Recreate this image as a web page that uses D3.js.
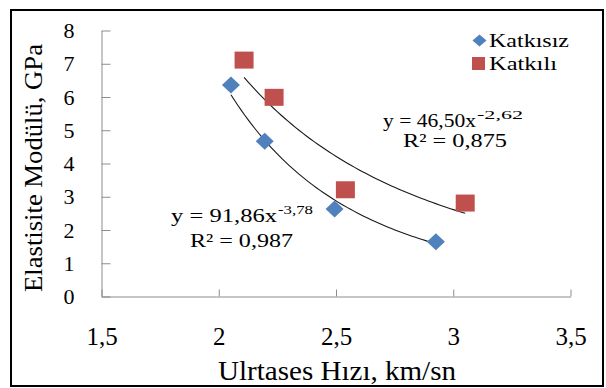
<!DOCTYPE html>
<html>
<head>
<meta charset="utf-8">
<script src="https://cdn.jsdelivr.net/npm/d3@7/dist/d3.min.js"></script>
<style>
  html, body { margin: 0; padding: 0; background: #fff; }
  svg { display: block; }
  text { font-family: "Liberation Serif", "Times New Roman", Tinos, "DejaVu Serif", serif; fill: #000; }
</style>
</head>
<body>
<svg id="chart" width="606" height="388"></svg>
<script>
// Ultrasonic velocity (km/s) vs. elastic modulus (GPa)
const seriesNames = ["Katkısız", "Katkılı"];
const velocityPlain = [2.052, 2.196, 2.494, 2.926];
const modulusPlain  = [6.36, 4.67, 2.63, 1.65];
const velocityAdd   = [2.108, 2.236, 2.540, 3.051];
const modulusAdd    = [7.11, 5.99, 3.21, 2.81];

// Power-law trendlines y = a * x^b
const fitCoefA = [91.86, 46.50];
const fitCoefB = [-3.78, -2.62];
const fitR2    = [0.987, 0.875];

const xTicks = [1.5, 2, 2.5, 3, 3.5];
const yTicks = [0, 1, 2, 3, 4, 5, 6, 7, 8];

const colors = ["#4f81bd", "#c0504d"];
const serif = '"Liberation Serif", "Times New Roman", Tinos, "DejaVu Serif", serif';
const comma = v => String(v).replace(".", ",");

const svg = d3.select("#chart");

// outer frame
svg.append("rect")
  .attr("x", 11).attr("y", 10).attr("width", 592).attr("height", 376)
  .attr("fill", "none").attr("stroke", "#000").attr("stroke-width", 2);

const x = d3.scaleLinear().domain([1.5, 3.5]).range([101.5, 570.5]);
const y = d3.scaleLinear().domain([0, 8]).range([296.5, 30.5]);

// x axis: ticks point up into the plot
const xAxis = svg.append("g")
  .attr("transform", "translate(0,296.5)")
  .call(d3.axisBottom(x).tickValues(xTicks).tickSizeInner(-7).tickSizeOuter(0)
    .tickPadding(31).tickFormat(comma));
xAxis.attr("font-family", serif);
xAxis.select(".domain").attr("stroke", "#8c8c8c");
xAxis.selectAll(".tick line").attr("stroke", "#8c8c8c");
xAxis.selectAll(".tick text")
  .style("font-family", serif).style("font-size", "25px").attr("fill", "#000");

// y axis: ticks point right into the plot
const yAxis = svg.append("g")
  .attr("transform", "translate(101.5,0)")
  .call(d3.axisLeft(y).tickValues(yTicks).tickSizeInner(-9).tickSizeOuter(0)
    .tickPadding(27).tickFormat(comma));
yAxis.attr("font-family", serif);
yAxis.select(".domain").attr("stroke", "#8c8c8c");
yAxis.selectAll(".tick line").attr("stroke", "#8c8c8c");
yAxis.selectAll(".tick text")
  .style("font-family", serif).style("font-size", "22px").attr("fill", "#000");

// axis titles
svg.append("text")
  .attr("x", 337).attr("y", 380).attr("text-anchor", "middle")
  .style("font-size", "27px")
  .attr("textLength", 238).attr("lengthAdjust", "spacingAndGlyphs")
  .text("Ulrtases Hızı, km/sn");

svg.append("text")
  .attr("transform", "translate(42,168) rotate(-90)")
  .attr("text-anchor", "middle")
  .style("font-size", "26px")
  .attr("textLength", 248).attr("lengthAdjust", "spacingAndGlyphs")
  .text("Elastisite Modülü, GPa");

// trendlines
const seriesX = [velocityPlain, velocityAdd];
const line = d3.line().x(d => x(d[0])).y(d => y(d[1]));
seriesX.forEach((xs, i) => {
  const lo = d3.min(xs), hi = d3.max(xs);
  const pts = d3.range(0, 61).map(k => {
    const v = lo + (hi - lo) * k / 60;
    return [v, fitCoefA[i] * Math.pow(v, fitCoefB[i])];
  });
  svg.append("path").datum(pts)
    .attr("d", line).attr("fill", "none")
    .attr("stroke", "#1a1a1a").attr("stroke-width", 1.1);
});

// markers
const diamond = (cx, cy, hw, hh) =>
  `M${cx},${cy - hh}L${cx + hw},${cy}L${cx},${cy + hh}L${cx - hw},${cy}Z`;

svg.append("g").selectAll("path")
  .data(d3.zip(velocityPlain, modulusPlain))
  .join("path")
  .attr("d", d => diamond(x(d[0]), y(d[1]), 9, 8.5))
  .attr("fill", colors[0]);

svg.append("g").selectAll("rect")
  .data(d3.zip(velocityAdd, modulusAdd))
  .join("rect")
  .attr("x", d => x(d[0]) - 9.5).attr("y", d => y(d[1]) - 8.5)
  .attr("width", 19).attr("height", 17)
  .attr("fill", colors[1]);

// legend
svg.append("path").attr("d", diamond(479.5, 40.5, 7, 6)).attr("fill", colors[0]);
svg.append("text").attr("x", 489).attr("y", 47)
  .style("font-size", "18px")
  .attr("textLength", 80).attr("lengthAdjust", "spacingAndGlyphs")
  .text(seriesNames[0]);
svg.append("rect").attr("x", 472).attr("y", 57).attr("width", 13).attr("height", 13)
  .attr("fill", colors[1]);
svg.append("text").attr("x", 489).attr("y", 70)
  .style("font-size", "18px")
  .attr("textLength", 68).attr("lengthAdjust", "spacingAndGlyphs")
  .text(seriesNames[1]);

// trendline equations
function equation(i, x0, base, baseLen, supLen, rX, rBase, rLen) {
  svg.append("text").attr("x", x0).attr("y", base)
    .style("font-size", "19px")
    .attr("textLength", baseLen).attr("lengthAdjust", "spacingAndGlyphs")
    .text(`y = ${comma(fitCoefA[i].toFixed(2))}x`);
  svg.append("text").attr("x", x0 + baseLen + 1).attr("y", base - 8)
    .style("font-size", "13px")
    .attr("textLength", supLen).attr("lengthAdjust", "spacingAndGlyphs")
    .text(comma(fitCoefB[i].toFixed(2)));
  svg.append("text").attr("x", rX).attr("y", rBase)
    .style("font-size", "19px")
    .attr("textLength", rLen).attr("lengthAdjust", "spacingAndGlyphs")
    .text(`R² = ${comma(fitR2[i].toFixed(3))}`);
}
equation(0, 171, 222, 106, 35, 190, 247, 103);
equation(1, 383, 127, 93, 46, 403, 147, 104);
</script>
</body>
</html>
